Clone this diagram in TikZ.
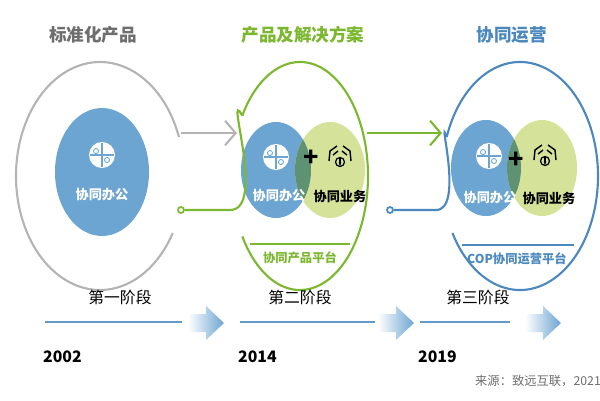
\documentclass[tikz,border=0pt]{standalone}
\usepackage{fontspec}
\setmainfont{Noto Sans CJK SC}
\usetikzlibrary{positioning,shapes.geometric,arrows.meta,calc}
\definecolor{RingGray}{HTML}{B4B4B4}
\definecolor{StageGreen}{HTML}{7CB82F}
\definecolor{StageBlue}{HTML}{4A88BE}
\definecolor{OfficeBlue}{HTML}{6CA5D2}
\definecolor{BizGreen}{HTML}{D5E39A}
\definecolor{Overlap}{HTML}{5E9272}
\definecolor{TitleGray}{HTML}{6E6E6E}
\newlength\unit
\setlength\unit{0.02cm}
\tikzset{
  title/.style={font=\bfseries\fontsize{10}{12}\selectfont},
  blob/.style={ellipse, minimum width=70\unit, minimum height=96\unit, inner sep=0pt},
  tag/.style={font=\bfseries\fontsize{7.5}{9}\selectfont},
  stage/.style={font=\fontsize{9}{11}\selectfont},
  year/.style={font=\bfseries\fontsize{9}{11}\selectfont},
  ring/.style={line width=1.2pt},
  plug/.style={circle, draw, line width=1pt, fill=white, minimum size=6\unit, inner sep=0pt},
}
\newcommand\puzzleicon[1]{%
  \fill[white] (#1) circle (13\unit);
  \draw[OfficeBlue, line width=0.6pt] ($(#1)+(-12\unit,0)$) -- ($(#1)+(12\unit,0)$)
    ($(#1)+(0,-12\unit)$) -- ($(#1)+(0,12\unit)$);
  \draw[OfficeBlue, line width=0.5pt] ($(#1)+(-6\unit,4\unit)$) circle (2.5\unit)
    ($(#1)+(5\unit,-5\unit)$) circle (2.5\unit);}
\newcommand\handicon[1]{%
  \draw[black, line width=0.7pt] ($(#1)+(0,-5\unit)$) circle (4.5\unit);
  \draw[black, line width=0.6pt, -{Stealth[length=2pt]}] ($(#1)+(0,-1\unit)$) -- ($(#1)+(0,-9\unit)$);
  \draw[black, line width=0.8pt] ($(#1)+(-11\unit,-4\unit)$) -- ($(#1)+(-10\unit,6\unit)$) -- ($(#1)+(-3\unit,11\unit)$)
    ($(#1)+(11\unit,-4\unit)$) -- ($(#1)+(10\unit,6\unit)$) -- ($(#1)+(3\unit,11\unit)$)
    ($(#1)+(-7\unit,2\unit)$) -- ($(#1)+(-2\unit,6\unit)$)
    ($(#1)+(7\unit,2\unit)$) -- ($(#1)+(2\unit,6\unit)$);}
\begin{document}
\begin{tikzpicture}[x=0.02cm, y=-0.02cm]
  \useasboundingbox (0,0) rectangle (600,400);

  % stage one
  \node[title, text=TitleGray] (t1) at (93,35) {标准化产品};
  \draw[RingGray, ring] (100,176) ++(-20:84 and 114) arc[start angle=-20, end angle=-330, x radius=84, y radius=114];
  \node[blob, fill=OfficeBlue, minimum width=94\unit, minimum height=128\unit] (o1) at (102,172) {};
  \puzzleicon{102,155}
  \node[tag, text=white] at (102,195) {协同办公};

  % stage two
  \node[title, text=StageGreen] (t2) at (303,35) {产品及解决方案};
  \draw[StageGreen, ring] (300,176) ++(-148:68 and 114) coordinate (j1) arc[start angle=-148, end angle=148, x radius=68, y radius=114];
  \node[blob, fill=OfficeBlue] (o2) at (276,170) {};
  \node[blob, fill=BizGreen] (b2) at (330,170) {};
  \begin{scope}
    \clip (276,170) ellipse (35 and 48);
    \fill[Overlap] (330,170) ellipse (35 and 48);
  \end{scope}
  \puzzleicon{276,157}
  \node[font=\bfseries\Large] at (311,158) {+};
  \handicon{340,157}
  \node[tag, text=white] at (279,196) {协同办公};
  \node[tag] at (340,196) {协同业务};
  \draw[StageGreen, line width=1.2pt] (250,244) -- (350,244);
  \node[text=StageGreen, font=\bfseries\fontsize{7}{9}\selectfont] at (300,258) {协同产品平台};

  % stage three
  \node[title, text=StageBlue] (t3) at (512,35) {协同运营};
  \draw[StageBlue, ring] (520,176) ++(-160:78 and 114) coordinate (j2) arc[start angle=-160, end angle=150, x radius=78, y radius=114];
  \node[blob, fill=OfficeBlue] (o3) at (486,168) {};
  \node[blob, fill=BizGreen] (b3) at (542,168) {};
  \begin{scope}
    \clip (486,168) ellipse (35 and 48);
    \fill[Overlap] (542,168) ellipse (35 and 48);
  \end{scope}
  \puzzleicon{489,156}
  \node[font=\bfseries\Large] at (516,160) {+};
  \handicon{545,156}
  \node[tag, text=white] at (490,198) {协同办公};
  \node[tag] at (549,198) {协同业务};
  \draw[StageBlue, line width=1.2pt] (462,245) -- (574,245);
  \node[text=StageBlue, font=\bfseries\fontsize{7}{9}\selectfont] at (517,259) {COP协同运营平台};

  % links between stages
  \coordinate (a1) at (181,133);
  \coordinate (a2) at (237,133);
  \draw[RingGray, line width=1.2pt, -{Straight Barb[length=6pt, width=14pt]}] (a1) -- (a2);
  \coordinate (a3) at (367,133);
  \coordinate (a4) at (442,133);
  \draw[StageGreen, line width=1.2pt, -{Straight Barb[length=6pt, width=14pt]}] (a3) -- (a4);
  \node[plug, draw=StageGreen] (p1) at (181,210) {};
  \coordinate (c1) at (230,210);
  \draw[StageGreen, line width=1.2pt] (p1) -- (c1) to[out=0, in=120] (j1);
  \node[plug, draw=StageBlue] (p2) at (390,210) {};
  \coordinate (c2) at (436,210);
  \draw[StageBlue, line width=1.2pt] (p2) -- (c2) to[out=0, in=110] (j2);

  % timeline
  \foreach \x/\y/\l/\r/\h/\s in {45/2002/182/188/120/第一阶段, 240/2014/375/378/300/第二阶段, 420/2019/510/525/478/第三阶段}{
    \node[stage] at (\h,297) {\s};
    \draw[StageBlue!85, line width=1.5pt] (\x,322) -- (\l,322);
    \shade[left color=white, right color=OfficeBlue] (\r,314) -- (\r+18,314) -- (\r+18,306) -- (\r+36,323) -- (\r+18,340) -- (\r+18,332) -- (\r,332) -- cycle;
    \node[year, anchor=west] at (\x-8,357) {\y};
  }
  \node[font=\fontsize{7}{9}\selectfont, text=TitleGray] (src) at (538,381) {来源：致远互联，2021};
\end{tikzpicture}
\end{document}
